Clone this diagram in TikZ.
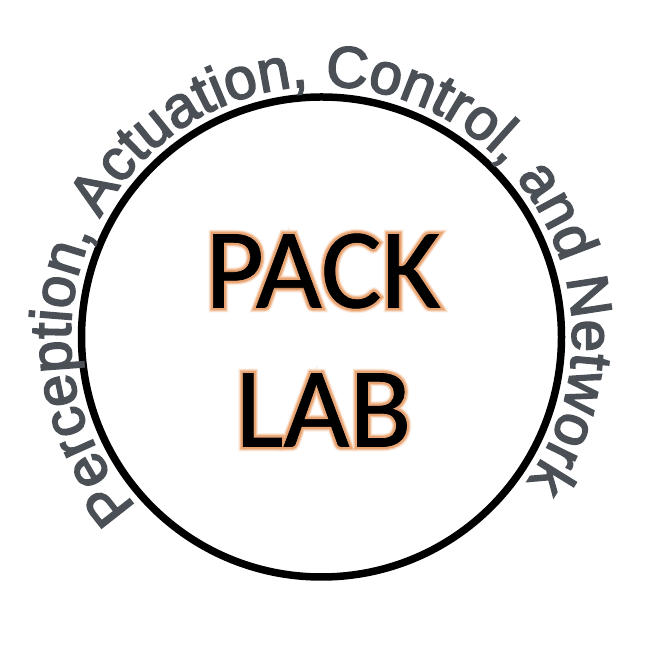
\documentclass[tikz,border=0pt]{standalone}
\usepackage{fontspec}
\setmainfont[FakeBold=3]{Liberation Sans}
\newfontfamily\labfont[FakeBold=0.6]{Carlito}
\newfontfamily\glowouter[FakeBold=8.5]{Carlito}
\newfontfamily\glowmiddle[FakeBold=6.5]{Carlito}
\newfontfamily\glowinner[FakeBold=4.5]{Carlito}
\usetikzlibrary{decorations.text}
\definecolor{arcgray}{HTML}{4A5056}
\definecolor{glowa}{HTML}{FBEDE2}
\definecolor{glowb}{HTML}{F3C7A6}
\definecolor{glowc}{HTML}{E9A473}
\tikzset{
  ringline/.style={line width=7.5pt,draw=black},
  labtext/.style={font=\labfont\fontsize{114}{114}\selectfont,text=black,inner sep=0pt},
  labglowa/.style={font=\glowouter\fontsize{114}{114}\selectfont,text=glowa,inner sep=0pt},
  labglowb/.style={font=\glowmiddle\fontsize{114}{114}\selectfont,text=glowb,inner sep=0pt},
  labglowc/.style={font=\glowinner\fontsize{114}{114}\selectfont,text=glowc,inner sep=0pt}
}
\begin{document}
\begin{tikzpicture}[x=1pt,y=1pt]
\useasboundingbox (0,0) rectangle (659,658);
\coordinate (c) at (321.5,321);
\draw[ringline] (c) circle[radius=240];
\path (c) ++(222.5:251) coordinate (arcstart);
\path[postaction={decorate,decoration={text along path,
  text={|\fontsize{58}{58}\selectfont\color{arcgray}|Perception, Actuation, Control, and Network},
  text align=left}}]
  (arcstart) arc[start angle=222.5,end angle=-42,radius=251];
\node[labglowa] (packa) at (323,387) {PACK};
\node[labglowa] (laba) at (323.5,248) {LAB};
\node[labglowb] (packb) at (323,387) {PACK};
\node[labglowb] (labb) at (323.5,248) {LAB};
\node[labglowc] (packc) at (323,387) {PACK};
\node[labglowc] (labc) at (323.5,248) {LAB};
\node[labtext] (pack) at (323,387) {PACK};
\node[labtext] (lab) at (323.5,248) {LAB};
\end{tikzpicture}
\end{document}
